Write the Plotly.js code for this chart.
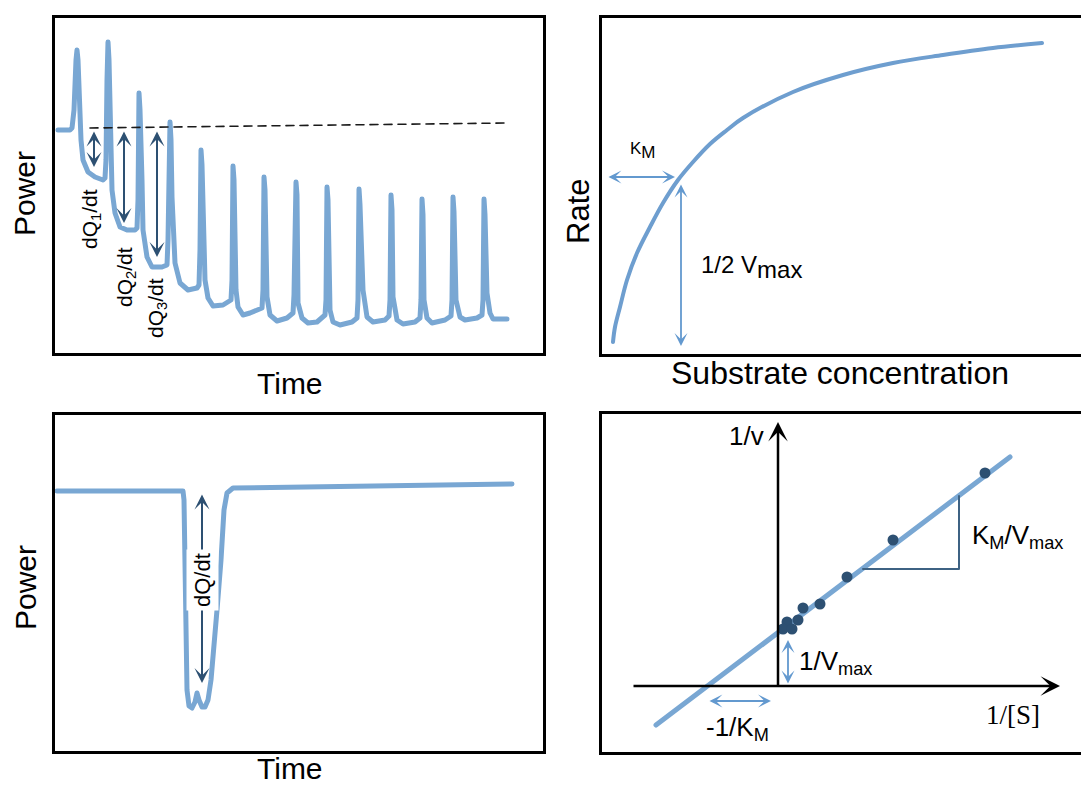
<!DOCTYPE html>
<html>
<head>
<meta charset="utf-8">
<script src="https://cdn.plot.ly/plotly-3.0.1.min.js"></script>
<style>
  html, body { margin: 0; padding: 0; background: #fff; }
  #chart { width: 1081px; height: 785px; }
  .scatterlayer .js-line { stroke-linejoin: round; stroke-linecap: round; }
</style>
</head>
<body>
<div id="chart"></div>
<script>
// ---- Multiple-injection ITC trace (arbitrary time / power units) ----
const titrationTime = [3,15,17,19,21,22,23,24,26,28,33,40,48,50,
  51,52,53,54,55,57,60,65,72,80,82,
  83,84,85,87,88,92,97,107,112,
  113,115,116,117,120,125,133,142,144,
  145,146,147,150,153,158,168,176,
  177,178,179,181,183,188,195,207,
  208,209,210,212,215,222,232,238,
  239,241,242,243,247,253,262,270,
  271,272,273,275,278,285,297,302,
  303,304,305,308,312,318,330,334,
  335,336,337,338,342,348,360,365,
  366,367,368,369,372,377,390,396,
  397,398,399,401,405,410,422,427,
  428,429,430,432,435,438,452];
const titrationPower = [223,223,225,243,293,303,293,256,213,193,181,176,173,175,
  193,273,311,293,223,163,140,126,123,123,125,
  153,260,243,173,123,96,86,86,88,
  113,231,213,156,90,70,63,65,68,
  103,203,188,73,55,47,48,53,
  73,187,173,63,46,38,40,45,
  63,176,163,56,38,32,35,40,
  58,171,158,50,35,30,31,38,
  53,166,153,43,31,28,31,35,
  53,164,148,63,36,31,33,37,
  53,158,143,56,33,29,31,35,
  53,154,138,53,35,30,33,37,
  53,156,141,53,36,33,35,38,
  53,154,138,60,40,34,34];
// Pre-injection baseline (dashed)
const baselineTime = [35, 452];
const baselinePower = [225, 230];
// dQ/dt steps measured from the baseline
const stepArrowTime = [39, 69, 102];
const stepArrowTop = [223, 223, 223];
const stepArrowBottom = [186, 130, 96];
const stepLabels = ['dQ<sub>1</sub>/dt', 'dQ<sub>2</sub>/dt', 'dQ<sub>3</sub>/dt'];

// ---- Michaelis–Menten saturation curve ----
const substrate = [11,13,18,25,35,48,61,76,91,108,125,141,191,241,291,341,391,440];
const rate = [12,27,47,74,101,127,151,174,192,210,224,236,262,279,291,299,306,311];
const kmSubstrate = 73;
const halfVmaxRate = 177;

// ---- Single-injection ITC trace ----
const singleTime = [2,128,129,130,132,134,137,140,142,144,147,150,153,156,159,162,166,169,172,178,457];
const singlePower = [260,260,251,151,61,45,43,49,58,51,44,44,51,71,101,141,191,241,258,263,267];
const singleArrowTime = 147;
const singleArrowTop = 258;
const singleArrowBottom = 68;

// ---- Lineweaver–Burk plot ----
const invS = [2.07, 1.15, 0.69, 0.42, 0.25, 0.20, 0.09, 0.05, 0.14];
const invV = [2.13, 1.46, 1.09, 0.82, 0.78, 0.66, 0.64, 0.57, 0.57];
const fitInvS = [-1.22, 2.32];
const fitInvV = [-0.39, 2.29];
const slopeTriS = [0.85, 1.81, 1.81];
const slopeTriV = [1.17, 1.17, 1.90];
const invVmax = 0.53;
const negInvKm = -0.70;

// ---- styling ----
const curveBlue = '#79a7d3';
const arrowBlue = '#6399cf';
const navy = '#2d5072';
const FONT = 'Liberation Sans, Arial, Helvetica, sans-serif';
const W = 1081, H = 785;
const px = v => v / W;
const py = v => 1 - v / H;

function axis(domain, range, anchor, mirror) {
  return {
    domain: domain, range: range, anchor: anchor,
    showline: true, linecolor: '#000', linewidth: 3, mirror: mirror,
    showgrid: false, zeroline: false, showticklabels: false, ticks: '',
    fixedrange: true
  };
}

function arrow(xref, yref, x0, y0, x1, y1, color, width, size, both) {
  return {
    xref: xref, yref: yref, axref: xref, ayref: yref,
    x: x1, y: y1, ax: x0, ay: y0, text: '', showarrow: true,
    arrowhead: 3, startarrowhead: 3, arrowside: both ? 'end+start' : 'end',
    arrowsize: size, startarrowsize: size, arrowwidth: width,
    arrowcolor: color, standoff: 0, startstandoff: 0
  };
}

function label(text, xpx, ypx, size, opts) {
  return Object.assign({
    xref: 'paper', yref: 'paper', x: px(xpx), y: py(ypx),
    xanchor: 'center', yanchor: 'middle', showarrow: false,
    text: text, font: {family: FONT, size: size, color: '#000'}
  }, opts || {});
}

const traces = [
  {x: titrationTime, y: titrationPower, xaxis: 'x', yaxis: 'y', mode: 'lines',
   line: {color: curveBlue, width: 5}},
  {x: baselineTime, y: baselinePower, xaxis: 'x', yaxis: 'y', mode: 'lines',
   line: {color: '#1a1a1a', width: 1.6, dash: '8px,6px'}},
  {x: substrate, y: rate, xaxis: 'x2', yaxis: 'y2', mode: 'lines',
   line: {color: '#6e9ecf', width: 4, shape: 'spline'}},
  {x: singleTime, y: singlePower, xaxis: 'x3', yaxis: 'y3', mode: 'lines',
   line: {color: curveBlue, width: 5}},
  {x: fitInvS, y: fitInvV, xaxis: 'x4', yaxis: 'y4', mode: 'lines',
   line: {color: curveBlue, width: 5}},
  {x: slopeTriS, y: slopeTriV, xaxis: 'x4', yaxis: 'y4', mode: 'lines',
   line: {color: '#3e6283', width: 2}},
  {x: invS, y: invV, xaxis: 'x4', yaxis: 'y4', mode: 'markers',
   marker: {color: navy, size: 11}}
];

const annotations = [];
// axis titles
annotations.push(label('Power', 25, 194, 30, {textangle: -90}));
annotations.push(label('Time', 290, 383, 30));
annotations.push(label('Rate', 579, 212, 31, {textangle: -90}));
annotations.push(label('Substrate concentration', 840, 373, 32));
annotations.push(label('Power', 25, 588, 30, {textangle: -90}));
annotations.push(label('Time', 290, 768, 30));

// step arrows + labels
stepArrowTime.forEach((t, i) => {
  annotations.push(arrow('x', 'y', t, stepArrowTop[i], t, stepArrowBottom[i], navy, 2, 1.25, true));
});
annotations.push(label(stepLabels[0], 91, 219, 21, {textangle: -90}));
annotations.push(label(stepLabels[1], 126, 277, 21, {textangle: -90}));
annotations.push(label(stepLabels[2], 157, 308, 21, {textangle: -90}));

// Michaelis–Menten markers
annotations.push(arrow('x2', 'y2', 5, halfVmaxRate, kmSubstrate, halfVmaxRate, arrowBlue, 1.8, 1.2, true));
annotations.push(arrow('x2', 'y2', kmSubstrate + 6, halfVmaxRate - 6, kmSubstrate + 6, 8, arrowBlue, 1.8, 1.2, true));
annotations.push(label('K<sub><span style="font-size:17px">M</span></sub>', 643, 151, 17));
annotations.push(label('1/2 V<sub><span style="font-size:24px">max</span></sub>', 699, 267, 24, {xanchor: 'left'}));

// single injection
annotations.push(arrow('x3', 'y3', singleArrowTime, singleArrowTop, singleArrowTime, singleArrowBottom, navy, 2, 1.25, true));
annotations.push(label('dQ/dt', 202, 580, 22, {textangle: -90, bgcolor: '#fff', borderpad: 3}));

// Lineweaver–Burk axes and markers
annotations.push(arrow('x4', 'y4', -1.46, 0, 2.82, 0, '#000', 2.5, 1.3, false));
annotations.push(arrow('x4', 'y4', 0, -0.01, 0, 2.64, '#000', 2.5, 1.3, false));
annotations.push(arrow('x4', 'y4', 0.10, 0.01, 0.10, invVmax - 0.07, arrowBlue, 1.8, 1.2, true));
annotations.push(arrow('x4', 'y4', negInvKm, -0.15, -0.07, -0.15, arrowBlue, 1.8, 1.2, true));
annotations.push(label('1/v', 746, 436, 26));
annotations.push(label('1/[S]', 1013, 715, 26, {font: {family: 'Liberation Serif, Times New Roman, serif', size: 27, color: '#000'}}));
annotations.push(label('K<sub>M</sub>/V<sub>max</sub>', 970, 536, 26, {xanchor: 'left'}));
annotations.push(label('1/V<sub>max</sub>', 797, 662, 26, {xanchor: 'left'}));
annotations.push(label('-1/K<sub>M</sub>', 737, 728, 26));

const layout = {
  width: W, height: H,
  margin: {l: 0, r: 0, t: 0, b: 0},
  paper_bgcolor: '#fff', plot_bgcolor: '#fff',
  showlegend: false, hovermode: false,
  font: {family: FONT, color: '#000'},
  xaxis:  axis([px(55), px(543)], [0, 488], 'y', true),
  yaxis:  axis([py(353), py(18)], [0, 335], 'x', true),
  xaxis2: axis([px(602), 1], [0, 479], 'y2', true),
  yaxis2: axis([py(354), py(18)], [0, 336], 'x2', false),
  xaxis3: axis([px(55), px(543)], [0, 488], 'y3', true),
  yaxis3: axis([py(751), py(415)], [0, 336], 'x3', true),
  xaxis4: axis([px(602), 1], [-1.76, 3.03], 'y4', true),
  yaxis4: axis([py(752), py(414)], [-0.66, 2.72], 'x4', false),
  annotations: annotations
};

Plotly.newPlot('chart', traces, layout, {displayModeBar: false, staticPlot: true});
</script>
</body>
</html>
